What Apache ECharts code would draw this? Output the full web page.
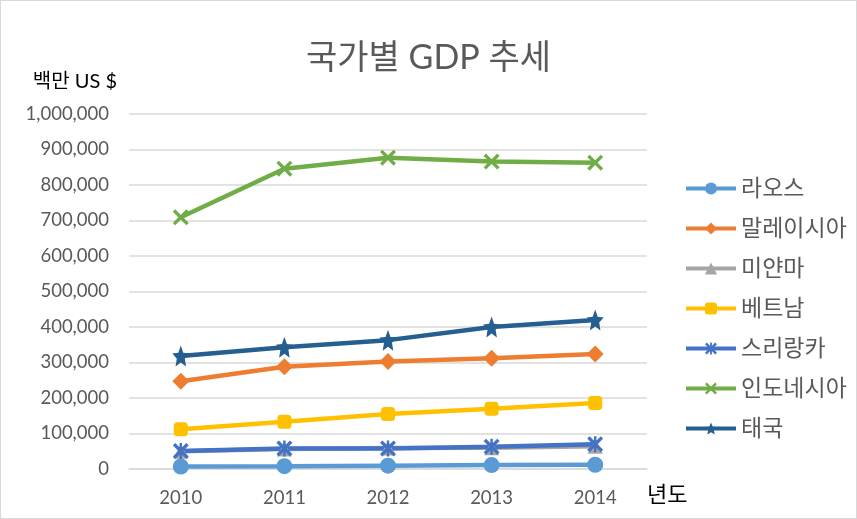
<!DOCTYPE html>
<html><head><meta charset="utf-8">
<script src="https://cdn.jsdelivr.net/npm/echarts@6/dist/echarts.min.js"></script>
<style>html,body{margin:0;padding:0;background:#fff}#c{width:857px;height:519px;box-sizing:border-box;border:1px solid #d9d9d9}</style>
</head><body><div id="c"></div>
<script>
const years = ['2010','2011','2012','2013','2014'];
const laos = [7000, 8000, 9500, 11000, 12000];
const malaysia = [247000, 288000, 303000, 312000, 324000];
const myanmar = [50000, 56000, 59000, 60000, 64000];
const vietnam = [112000, 133000, 155000, 170000, 186000];
const sriLanka = [51000, 58000, 58000, 63000, 70000];
const indonesia = [709000, 846000, 877000, 866000, 863000];
const thailand = [318000, 343000, 363000, 400000, 420000];
const yTicks = {min: 0, max: 1000000, interval: 100000};

const F = 'Lato, "Noto Sans CJK KR", sans-serif';
const starPath = 'path://M10,0 L12.9,6.9 L20,7.6 L14.7,12.4 L16.2,20 L10,16.2 L3.8,20 L5.3,12.4 L0,7.6 L7.1,6.9 Z';
const xPath = 'path://M0,3 L3,0 L10,7 L17,0 L20,3 L13,10 L20,17 L17,20 L10,13 L3,20 L0,17 L7,10 Z';
const astPath = 'path://M0,3 L3,0 L10,7 L17,0 L20,3 L13,10 L20,17 L17,20 L10,13 L3,20 L0,17 L7,10 Z M8.5,0 L11.5,0 L11.5,20 L8.5,20 Z';

function s(name, data, color, symbol, size) {
  return {name, type:'line', data, symbol, symbolSize:size, showSymbol:true,
    lineStyle:{color, width:4.5}, itemStyle:{color}, animation:false};
}
const chart = echarts.init(document.getElementById('c'));
chart.setOption({
  animation:false,
  title:{text:'국가별 GDP 추세', left:'center', top:35, textStyle:{fontFamily:F, fontSize:34, fontWeight:'normal', color:'#595959'}},
  grid:{left:128, right:209, top:113, bottom:49},
  legend:{orient:'vertical', left:683, top:175, padding:0, itemWidth:50, itemHeight:15, itemGap:15,
    lineStyle:{width:4},
    textStyle:{fontFamily:F, fontSize:23, color:'#595959', lineHeight:25},
    data:['라오스','말레이시아','미얀마','베트남','스리랑카','인도네시아','태국']},
  xAxis:{type:'category', data:years, boundaryGap:true,
    name:'년도', nameLocation:'end', nameGap:0, nameTextStyle:{fontFamily:F, fontSize:22, color:'#000', align:'left', verticalAlign:'top', padding:[15,0,0,0]},
    axisLine:{lineStyle:{color:'#d9d9d9', width:1.5}}, axisTick:{show:false},
    axisLabel:{fontFamily:F, fontSize:18.5, color:'#595959', margin:20}},
  yAxis:{type:'value', min:yTicks.min, max:yTicks.max, interval:yTicks.interval,
    name:'백만 US $', nameLocation:'end', nameGap:22, nameTextStyle:{fontFamily:F, fontSize:20, color:'#000', align:'right', padding:[0,12,0,0]},
    axisLine:{show:false}, axisTick:{show:false},
    splitLine:{lineStyle:{color:'#d9d9d9', width:1.5}},
    axisLabel:{fontFamily:F, fontSize:18.5, color:'#595959', margin:20,
      formatter:v=>v.toLocaleString('en-US')}},
  series:[
    s('라오스', laos, '#5B9BD5', 'circle', 16),
    s('말레이시아', malaysia, '#ED7D31', 'diamond', 17),
    s('미얀마', myanmar, '#A5A5A5', 'triangle', 15),
    s('베트남', vietnam, '#FFC000', 'roundRect', 14),
    s('스리랑카', sriLanka, '#4472C4', astPath, 16),
    s('인도네시아', indonesia, '#70AD47', xPath, 16),
    s('태국', thailand, '#255E91', starPath, [17,21])
  ]
});
</script></body></html>
